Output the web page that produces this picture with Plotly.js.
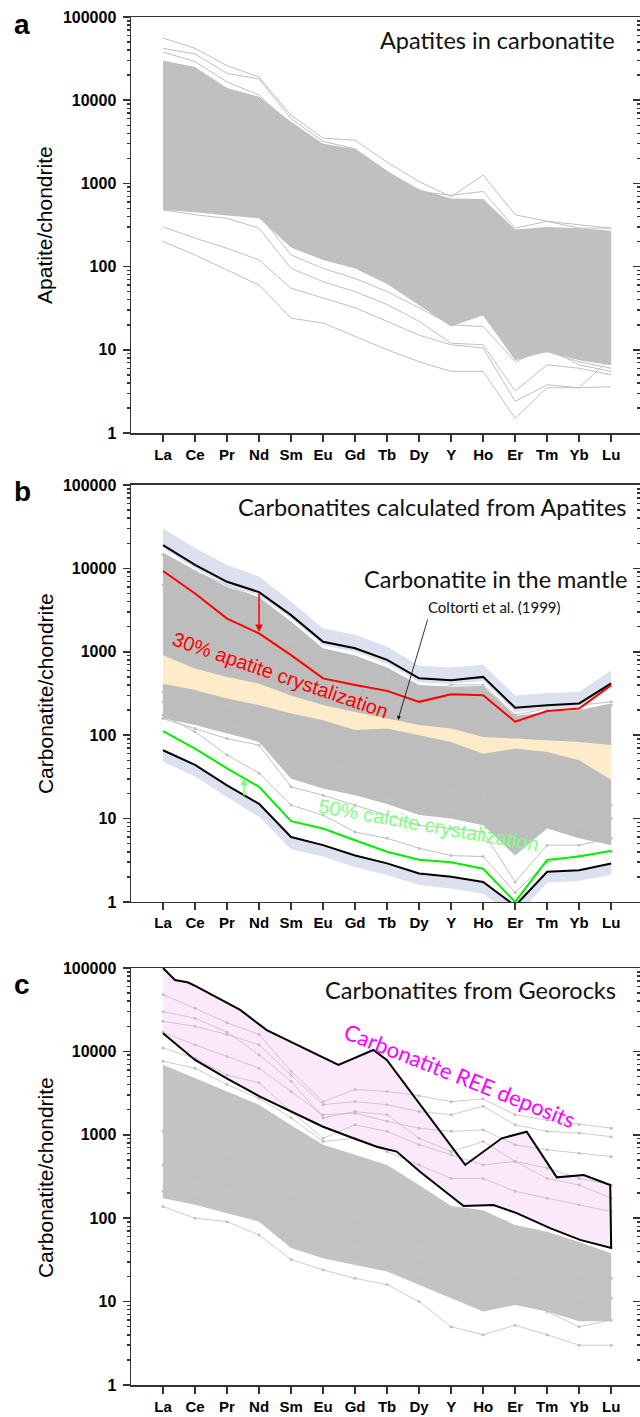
<!DOCTYPE html>
<html>
<head>
<meta charset="utf-8">
<script src="https://cdn.plot.ly/plotly-3.0.1.min.js"></script>
<style>html,body{margin:0;padding:0;background:#fff;}#chart{width:640px;height:1417px;}</style>
</head>
<body>
<div id="chart"></div>
<script>
// ---------- categories ----------
const cats = ['La','Ce','Pr','Nd','Sm','Eu','Gd','Tb','Dy','Y','Ho','Er','Tm','Yb','Lu'];
const majorVals = [1,10,100,1000,10000,100000];
const majorText = ['1','10','100','1000','10000','100000'];

// ---------- panel a : apatites in carbonatite ----------
const aBandTop = [30000,25000,14000,11000,5500,3000,2600,1400,850,660,650,280,300,290,270];
const aBandBot = [480,450,410,380,170,120,95,62,34,19,26,7.5,9.5,7.5,6.5];
const aT1 = [56000,42000,26000,19000,6600,3500,3300,1800,1050,690,1260,420,350,320,290];
const aT2 = [42000,36000,21000,18000,6000,3200,2600,1400,800,720,800,290,350,290,290];
const aT3 = [38000,29000,16600,11500,5000,2600,2200,1260,690,550,600,240,260,240,200];
const aT4 = [22000,18000,12600,8700,3800,2200,1800,1050,600,460,500,166,182,166,138];
const aM1 = [8000,6600,5000,3500,1660,1050,870,500,290,182,200,66,80,72,66];
const aM2 = [3200,2900,2200,1660,800,550,420,260,138,95,95,32,38,32,26];
const aM3 = [1260,1150,950,720,350,240,182,115,66,42,38,11.5,15,12.6,10.5];
const aL1 = [800,720,600,550,182,138,105,66,38,24,26,8,9.5,7.2,6];
const aL2 = [600,525,460,420,138,95,72,50,32,20,19,7.2,10.5,6.6,5.5];
const aL3 = [480,420,380,290,95,66,50,35,22,12,11.5,3.2,6.6,6,5];
const aL4 = [300,220,166,120,55,42,32,22,15,11.5,10.5,2.4,3.8,3.5,8];
const aL5 = [200,138,91,60,24,21,14.5,10,7.2,5.5,5.5,1.5,3.5,3.5,3.6];

// ---------- panel b : carbonatites calculated from apatites ----------
const bBandTop = [15500,9500,6000,4500,2300,1100,900,650,400,380,390,170,190,200,240];
const bBandBot = [160,132,105,83,30,23,19,15,11,10,8.3,3.6,7.6,5.8,4.8];
const bU1 = [14500,9100,6300,4400,2100,1000,830,575,330,400,400,174,209,229,251];
const bU2 = [6300,4800,3300,2500,1320,830,660,480,330,300,275,110,190,190,229];
const bL1 = [158,120,91,76,24,19,14.5,11,8.3,7.6,6.9,1.74,4.8,4.8,5.8];
const bL2 = [174,110,58,35,14.5,11,6.9,5.8,4.4,3.6,3.5,1.3,3.0,3.6,4.0];
const bL3 = [250,174,132,110,40,30,23,17,14.5,13,11,4.0,10,8.3,10];
const bL4 = [330,275,230,174,69,48,36,30,25,21,19,5.8,14.5,12,14.5];
const coltortiTop = [910,630,500,415,300,230,190,158,132,120,95,91,87,83,76];
const coltortiBot = [415,347,275,230,182,151,115,120,100,83,60,69,63,50,29];
const upperEnvTop = [30000,17500,11000,8000,4000,1900,1600,1150,680,650,700,300,320,330,600];
const upperEnvBot = [17500,10000,6300,4700,2500,1200,1000,720,430,410,450,190,205,215,380];
const upperBlack = [19000,11000,6900,5200,2750,1320,1100,800,480,457,500,213,229,240,417];
const apatite30 = [9300,5000,2500,1660,912,480,400,340,251,309,302,145,195,209,398];
const lowerEnvTop = [66,44,25,15,6.0,4.8,3.6,2.9,2.2,2.0,1.74,0.9,2.3,2.4,2.9];
const lowerEnvBot = [48,32,18,10.5,4.3,3.5,2.6,2.1,1.6,1.45,1.25,0.65,1.7,1.8,2.1];
const lowerBlack = [66,44,25,15,6.0,4.8,3.6,2.9,2.2,2.0,1.74,0.9,2.3,2.4,2.9];
const calcite50 = [112,69,40,24,9.3,7.6,5.5,4.0,3.2,3.0,2.5,1.0,3.2,3.5,4.1];

// ---------- panel c : carbonatites from Georocks ----------
const cBandTop = [6900,4800,3300,2300,1300,760,575,436,250,140,125,83,69,52,38];
const cBandBot = [174,145,115,91,44,33,27.5,23,16,11,7.6,9.1,7.6,5.8,5.8];
const cU1 = [48000,33000,22000,16000,5800,2500,3500,3300,2950,2500,2700,1740,1500,1330,1200];
const cU2 = [23000,20000,16000,12000,5200,2300,2500,2300,1900,1740,2200,1320,1100,1050,950];
const cU3 = [17000,12000,8700,6300,3300,1740,1820,1450,1200,1100,1150,760,660,600,550];
const cU4 = [11000,8300,5200,4200,1900,910,1320,1100,760,575,436,480,400,300,250];
const cU5 = [30000,25000,17000,9100,4400,1600,1900,1740,910,630,830,480,300,250,174];
const cU6 = [7600,6300,4000,2750,1600,830,910,630,436,300,300,210,174,145,120];
const cL1 = [138,100,91,63,32,24,19,16,10,5.0,4.0,5.2,4.0,3.0,3.0];
const cL2 = [210,174,132,100,52,40,33,27.5,19,12,9.1,11,7.6,5.0,6.0];
const cL3 = [436,300,250,174,83,63,52,44,30,21,16,19,13,10,11];
const cL4 = [1100,760,525,363,174,120,91,76,52,36,27.5,33,25,19,19];
// REE-deposit field outline (x in element positions, y in chondrite-normalised units)
const reeUpperX = [0,0.375,0.79,1.05,2.41,3.24,5.48,6.57,6.99,9.44,10.58,11.36,12.3,13.14,13.97,14];
const reeUpperY = [100000,71800,67000,59700,31500,18000,6870,10400,7900,435,908,1090,309,330,250,44];
const reeLowerX = [14,13.03,12.09,11.05,10.32,9.39,8.03,7.3,6.68,5.95,5.375,5.0,3.03,1.99,1.0,0];
const reeLowerY = [44,55,76,115,144,140,360,630,720,910,1090,1250,2870,4750,7900,16500];

// ---------- helpers ----------
const xs = cats.map((_, i) => i);
const GRAY = '#c0c0c0';
function band(top, bot, xa, ya, color) {
  return {x: xs.concat(xs.slice().reverse()), y: top.concat(bot.slice().reverse()),
    xaxis: xa, yaxis: ya, type: 'scatter', mode: 'lines', fill: 'toself',
    fillcolor: color, line: {width: 0, color: color}, hoverinfo: 'skip'};
}
function ln(vals, xa, ya, color, width, markers) {
  return {x: xs, y: vals, xaxis: xa, yaxis: ya, type: 'scatter',
    mode: markers ? 'lines+markers' : 'lines',
    line: {color: color, width: width}, marker: {size: 3, color: color}, hoverinfo: 'skip'};
}

const traces = [];
// panel a
traces.push(band(aBandTop, aBandBot, 'x', 'y', GRAY));
[aT1,aT2,aT3,aT4,aM1,aM2,aM3,aL1,aL2,aL3,aL4,aL5].forEach(v => traces.push(ln(v,'x','y',GRAY,1,false)));
// panel b
traces.push(band(bBandTop, bBandBot, 'x2', 'y2', '#bdbdbd'));
[bU1,bU2,bL1,bL2,bL3,bL4].forEach(v => traces.push(ln(v,'x2','y2',GRAY,1,true)));
traces.push(band(coltortiTop, coltortiBot, 'x2', 'y2', '#fdebc9'));
traces.push(band(upperEnvTop, upperEnvBot, 'x2', 'y2', '#dbe1ee'));
traces.push(band(lowerEnvTop, lowerEnvBot, 'x2', 'y2', '#dbe1ee'));
traces.push(ln(upperBlack,'x2','y2','#000',2,false));
traces.push(ln(lowerBlack,'x2','y2','#000',2,false));
traces.push(ln(apatite30,'x2','y2','#ff0000',2,false));
traces.push(ln(calcite50,'x2','y2','#00ee00',2,false));
// panel c
traces.push({x: reeUpperX.concat(reeLowerX), y: reeUpperY.concat(reeLowerY), xaxis:'x3', yaxis:'y3',
  type:'scatter', mode:'lines', fill:'toself', fillcolor:'#fbe8fb', line:{width:0}, hoverinfo:'skip'});
traces.push(band(cBandTop, cBandBot, 'x3', 'y3', '#c3c3c3'));
[cU1,cU2,cU3,cU4,cU5,cU6,cL1,cL2,cL3,cL4].forEach(v => traces.push(ln(v,'x3','y3',GRAY,0.8,true)));
traces.push({x: reeUpperX.concat(reeLowerX), y: reeUpperY.concat(reeLowerY), xaxis:'x3', yaxis:'y3',
  type:'scatter', mode:'lines', line:{color:'#000', width:2}, hoverinfo:'skip'});

// ---------- axes ----------
const minorVals = [];
for (let k = 0; k < 5; k++) for (let m = 2; m <= 9; m++) minorVals.push(m * Math.pow(10, k));
const tickFont = {family: 'Arial, Liberation Sans, sans-serif', size: 16, color: '#000', weight: 'bold'};
function xax(anchor) {
  return {anchor: anchor, range: [-1, 14.9], tickmode: 'array', tickvals: xs, ticktext: cats,
    ticks: 'outside', ticklen: 7, tickwidth: 1.5, tickcolor: '#333', showline: true, linecolor: '#333',
    linewidth: 1.5, mirror: true, showgrid: false, zeroline: false,
    tickfont: {family: 'Arial, Liberation Sans, sans-serif', size: 15, color: '#000', weight: 'bold'}};
}
function yax(domain) {
  return {domain: domain, type: 'log', range: [0, 5], tickmode: 'array', tickvals: majorVals, ticktext: majorText,
    ticks: 'outside', ticklen: 7, tickwidth: 1.5, tickcolor: '#333', showline: true, linecolor: '#333',
    linewidth: 1.5, showgrid: false, zeroline: false, tickfont: tickFont, ticklabelstandoff: 3,
    minor: {tickmode: 'array', tickvals: minorVals, ticks: 'outside', ticklen: 3, tickcolor: '#333', showgrid: false}};
}
function yright(over, anchor) {
  return {overlaying: over, anchor: anchor, side: 'right', type: 'log', range: [0, 5], tickmode: 'array',
    tickvals: majorVals, ticks: 'inside', ticklen: 7, tickwidth: 1.5, tickcolor: '#333', showticklabels: false,
    showline: false, showgrid: false, zeroline: false,
    minor: {tickmode: 'array', tickvals: minorVals, ticks: 'inside', ticklen: 3, tickcolor: '#333', showgrid: false}};
}
// empty traces so the right-hand tick axes render
traces.push({x:[null], y:[null], xaxis:'x', yaxis:'y4', type:'scatter', hoverinfo:'skip'});
traces.push({x:[null], y:[null], xaxis:'x2', yaxis:'y5', type:'scatter', hoverinfo:'skip'});
traces.push({x:[null], y:[null], xaxis:'x3', yaxis:'y6', type:'scatter', hoverinfo:'skip'});

const calibri = 'Lato, Open Sans, sans-serif';
const arial = 'Arial, Liberation Sans, sans-serif';
const C = {xanchor:'center', yanchor:'middle', showarrow:false};
const annotations = [
  Object.assign({xref:'paper', yref:'paper', x:-0.214, y:0.9942, text:'<b>a</b>', font:{family:arial, size:28, color:'#000'}}, C),
  Object.assign({xref:'paper', yref:'paper', x:-0.214, y:0.6535, text:'<b>b</b>', font:{family:arial, size:28, color:'#000'}}, C),
  Object.assign({xref:'paper', yref:'paper', x:-0.214, y:0.2924, text:'<b>c</b>', font:{family:arial, size:28, color:'#000'}}, C),
  Object.assign({xref:'paper', yref:'paper', x:-0.169, y:0.848, text:'Apatite/chondrite', textangle:-90, font:{family:arial, size:21, color:'#000'}}, C),
  Object.assign({xref:'paper', yref:'paper', x:-0.169, y:0.5058, text:'Carbonatite/chondrite', textangle:-90, font:{family:arial, size:21, color:'#000'}}, C),
  Object.assign({xref:'paper', yref:'paper', x:-0.169, y:0.152, text:'Carbonatite/chondrite', textangle:-90, font:{family:arial, size:21, color:'#000'}}, C),
  {xref:'x', yref:'y', x:14.19, y:4.72, xanchor:'right', yanchor:'middle', text:'Apatites in carbonatite', showarrow:false, font:{family:calibri, size:23.5, color:'#111'}},
  {xref:'x2', yref:'y2', x:14.53, y:4.736, xanchor:'right', yanchor:'middle', text:'Carbonatites calculated from Apatites', showarrow:false, font:{family:calibri, size:23.5, color:'#111'}},
  {xref:'x2', yref:'y2', x:14.56, y:3.873, xanchor:'right', yanchor:'middle', text:'Carbonatite in the mantle', showarrow:false, font:{family:calibri, size:23.5, color:'#111'}},
  Object.assign({xref:'x2', yref:'y2', x:10.36, y:3.537, text:'Coltorti et al. (1999)', font:{family:calibri, size:15, color:'#111'}}, C),
  {xref:'x2', yref:'y2', x:7.34, y:2.182, axref:'x2', ayref:'y2', ax:8.28, ay:3.405, text:'', showarrow:true, arrowhead:2, arrowsize:1, arrowwidth:0.8, arrowcolor:'#000'},
  {xref:'x2', yref:'y2', x:3, y:3.237, axref:'x2', ayref:'y2', ax:3, ay:3.716, text:'', showarrow:true, arrowhead:2, arrowsize:1, arrowwidth:1.5, arrowcolor:'#ff0000'},
  {xref:'x2', yref:'y2', x:2.53, y:1.487, axref:'x2', ayref:'y2', ax:2.53, ay:1.259, text:'', showarrow:true, arrowhead:2, arrowsize:1, arrowwidth:1.5, arrowcolor:'#80ff80'},
  Object.assign({xref:'x2', yref:'y2', x:3.66, y:2.72, text:'30% apatite crystalization', textangle:19, font:{family:arial, size:20, color:'#ff0000'}}, C),
  Object.assign({xref:'x2', yref:'y2', x:8.28, y:0.923, text:'50% calcite crystalization', textangle:10, font:{family:arial, size:20, color:'#80ff80'}}, C),
  {xref:'x3', yref:'y3', x:14.22, y:4.736, xanchor:'right', yanchor:'middle', text:'Carbonatites from Georocks', showarrow:false, font:{family:calibri, size:23.5, color:'#111'}},
  Object.assign({xref:'x3', yref:'y3', x:9.28, y:3.717, text:'Carbonatite REE deposits', textangle:21.6, font:{family:calibri, size:22, color:'#ff00ff'}}, C)
];

const layout = {
  width: 640, height: 1417, margin: {l: 131, r: 0, t: 17, b: 32},
  paper_bgcolor: '#fff', plot_bgcolor: '#fff', showlegend: false,
  xaxis: xax('y'), xaxis2: xax('y2'), xaxis3: xax('y3'),
  yaxis: yax([0.6959, 1]), yaxis2: yax([0.3531, 0.6579]), yaxis3: yax([0, 0.3048]),
  yaxis4: yright('y', 'x'), yaxis5: yright('y2', 'x2'), yaxis6: yright('y3', 'x3'),
  annotations: annotations
};
Plotly.newPlot('chart', traces, layout, {staticPlot: true});
</script>
</body>
</html>
